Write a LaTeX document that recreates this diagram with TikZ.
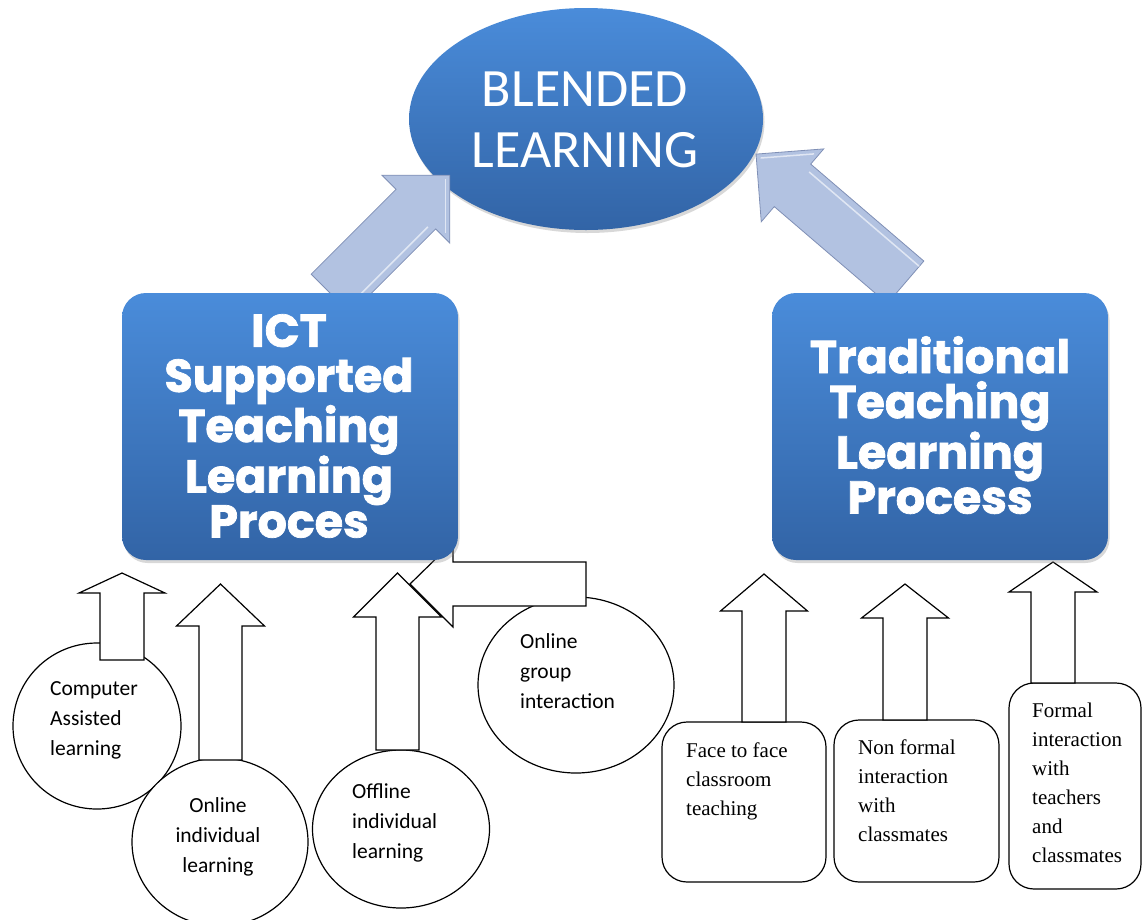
\documentclass[tikz,border=0pt]{standalone}
\usepackage{fontspec}
\newfontfamily\calib{Carlito}
\newfontfamily\popp{Poppins}[BoldFeatures={FakeBold=1.6}]
\newfontfamily\tms{Liberation Serif}
\usetikzlibrary{shapes.geometric,shadows}
\definecolor{bluetop}{RGB}{74,140,218}
\definecolor{bluebot}{RGB}{50,100,166}
\definecolor{arrfill}{RGB}{178,194,225}
\definecolor{arredge}{RGB}{128,144,182}
\tikzset{
  bigblue/.style={top color=bluetop, bottom color=bluebot, draw=none,
    drop shadow={shadow xshift=1.5pt, shadow yshift=-3pt, opacity=0.3}},
  hdbox/.style={bigblue, rectangle, rounded corners=24pt, minimum width=336pt,
    minimum height=267pt, inner sep=0pt},
  hdtext/.style={text=white, align=center, inner sep=0pt,
    font=\popp\bfseries\fontsize{46}{45}\selectfont},
  bltext/.style={text=white, align=center, inner sep=0pt,
    font=\calib\fontsize{54}{61}\selectfont},
  circ/.style={ellipse, draw=black, fill=white, line width=1.2pt, inner sep=0pt},
  rr/.style={rectangle, draw=black, fill=white, line width=1.2pt, inner sep=0pt,
    rounded corners=25pt},
  ctext/.style={inner sep=0pt, font=\calib\fontsize{21.5}{30}\selectfont},
  rtext/.style={inner sep=0pt, align=left, font=\tms\fontsize{21}{29}\selectfont},
  blk/.style={draw=black, fill=white, line width=1.2pt, line join=miter},
  big3d/.style={fill=arrfill, draw=arredge, line width=0.8pt, line join=miter},
  bevel/.style={draw=white, opacity=0.6, line width=1.5pt},
}
\newcommand\upblock[6]{% cx, bottom, headbase, tip, shaft half, head half
  \draw[blk] (#1-#5,#2) -- (#1-#5,#3) -- (#1-#6,#3) -- (#1,#4) -- (#1+#6,#3)
    -- (#1+#5,#3) -- (#1+#5,#2) -- cycle;}
\newcommand\bigarrow[4]{% tail x, tail y, angle, length
  \begin{scope}[shift={(#1,#2)}, rotate=#3]
    \draw[big3d] (0,-28) -- (#4-48,-28) -- (#4-48,-48) -- (#4,0) -- (#4-48,48)
      -- (#4-48,28) -- (0,28) -- cycle;
    \draw[bevel] (0,21) -- (#4-52,21);
    \draw[bevel] (#4-44,38) -- (#4-6,0);
  \end{scope}}
\begin{document}
\begin{tikzpicture}[x=1pt,y=-1pt]
\useasboundingbox (0,0) rectangle (1142,919);
\fill[white] (0,0) rectangle (1142,919);

% top ellipse
\node[bigblue, ellipse, minimum width=354pt, minimum height=222pt, inner sep=0pt] (bl) at (586,119) {};

% big 3D arrows
\bigarrow{331}{294}{45}{168}
\bigarrow{905.6}{282.3}{139.4}{197}

% lower circles and rounded boxes
\node[circ, minimum width=168pt, minimum height=166pt] (c1) at (97,726) {};
\node[circ, minimum width=176pt, minimum height=168pt] (c2) at (220,842) {};
\node[circ, minimum width=177pt, minimum height=158pt] (c3) at (401,829) {};
\node[circ, minimum width=196pt, minimum height=176pt] (c4) at (576,685) {};
\node[rr, minimum width=164pt, minimum height=160pt] (r1) at (744,802) {};
\node[rr, minimum width=165pt, minimum height=162pt] (r2) at (916.5,801) {};
\node[rr, minimum width=132pt, minimum height=206pt] (r3) at (1075,786) {};

% block arrows
\upblock{122}{660}{593}{573}{22}{43}
\upblock{220.5}{760}{626}{584}{21.5}{44}
\upblock{397.5}{750}{617}{573}{21.5}{44}
\upblock{764}{722}{611}{574}{22}{43.5}
\upblock{905}{720}{618}{584}{22}{43.5}
\upblock{1053}{683}{592}{562}{22}{44}
\draw[blk] (586,562) -- (453,562) -- (453,542) -- (410,584) -- (453,627)
  -- (453,606) -- (586,606) -- cycle;

% heading boxes
\node[hdbox] (ict) at (290,426.5) {};
\node[hdbox] (trad) at (940,426.5) {};

% texts
\node[bltext, anchor=north] (blt) at (585,72) {BLENDED\\LEARNING};
\node[hdtext, anchor=north] (ictt) at (289,314) {ICT\\Supported\\Teaching\\Learning\\Proces};
\node[hdtext, anchor=north] (tradt) at (940,336) {Traditional\\Teaching\\Learning\\Process};
\node[ctext, align=left, anchor=north west] (t1) at (50,681.5) {Computer\\Assisted\\learning};
\node[ctext, align=center, anchor=north] (t2) at (218,797.5) {Online\\individual\\learning};
\node[ctext, align=left, anchor=north west] (t3) at (352,783.5) {Offline\\individual\\learning};
\node[ctext, align=left, anchor=north west] (t4) at (520,633.5) {Online\\group\\interaction};
\node[rtext, anchor=north west] (ta) at (686,742.7) {Face to face\\classroom\\teaching};
\node[rtext, anchor=north west] (tb) at (858,739.7) {Non formal\\interaction\\with\\classmates};
\node[rtext, anchor=north west] (tc) at (1032,702.7) {Formal\\interaction\\with\\teachers\\and\\classmates};
\end{tikzpicture}
\end{document}
